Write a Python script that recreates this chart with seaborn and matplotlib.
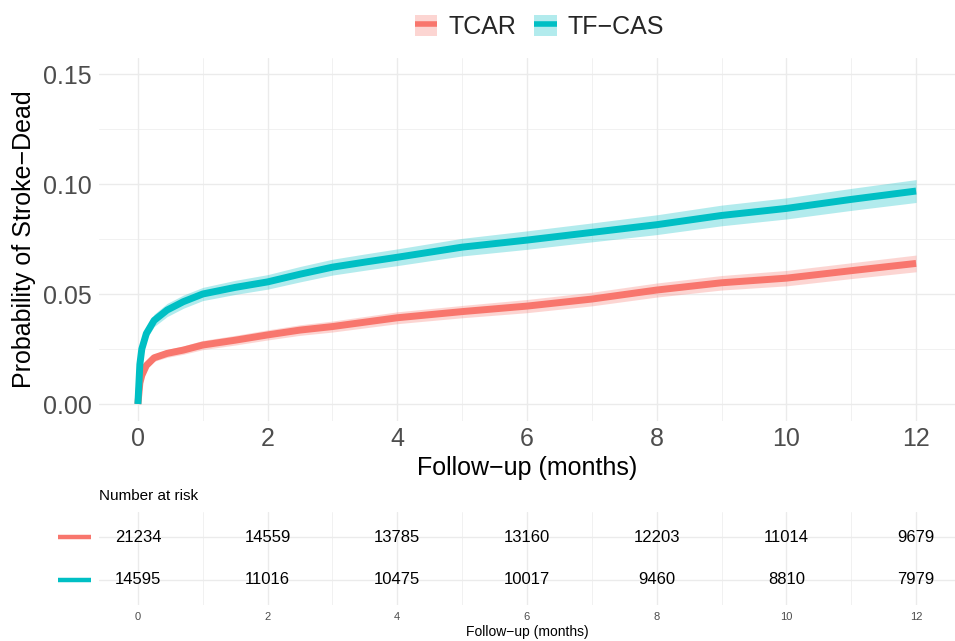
import numpy as np
import pandas as pd
import matplotlib
matplotlib.use("Agg")
import matplotlib.pyplot as plt
import matplotlib.transforms as mtransforms
from matplotlib.patches import Patch
from matplotlib.lines import Line2D
from matplotlib.ticker import MultipleLocator
import seaborn as sns

# cumulative incidence
time = [0, 0.03, 0.06, 0.13, 0.25, 0.45, 0.7, 1.0, 1.5, 2.0, 2.5, 3.0, 3.5,
        4.0, 5.0, 6.0, 7.0, 8.0, 9.0, 10.0, 11.0, 12.0]

tcar_est = [0, 0.0095, 0.013, 0.0175, 0.021, 0.023, 0.0245, 0.0268, 0.029, 0.0314,
            0.0336, 0.0352, 0.0372, 0.0392, 0.042, 0.0445, 0.0477, 0.0518, 0.0551,
            0.0572, 0.0606, 0.0639]
tcar_lo = [0, 0.0085, 0.0118, 0.0161, 0.0194, 0.0212, 0.0226, 0.0247, 0.0268, 0.0291,
           0.0312, 0.0327, 0.0346, 0.0365, 0.0392, 0.0415, 0.0446, 0.0486, 0.0518,
           0.0537, 0.057, 0.0601]
tcar_hi = [0, 0.0105, 0.0142, 0.0189, 0.0226, 0.0248, 0.0264, 0.0289, 0.0312, 0.0337,
           0.036, 0.0377, 0.0398, 0.0419, 0.0448, 0.0475, 0.0508, 0.055, 0.0584,
           0.0607, 0.0642, 0.0677]

tfcas_est = [0, 0.018, 0.025, 0.032, 0.038, 0.0427, 0.0465, 0.050, 0.053, 0.0555,
             0.059, 0.0622, 0.0645, 0.0667, 0.0713, 0.0745, 0.078, 0.0815, 0.0857,
             0.0889, 0.093, 0.0968]
tfcas_lo = [0, 0.0165, 0.023, 0.0295, 0.0352, 0.0397, 0.0435, 0.047, 0.0498, 0.0522,
            0.0555, 0.0586, 0.0608, 0.0629, 0.0673, 0.0703, 0.0737, 0.077, 0.081,
            0.0841, 0.088, 0.0916]
tfcas_hi = [0, 0.0195, 0.027, 0.0345, 0.0408, 0.0457, 0.0495, 0.053, 0.0562, 0.0588,
            0.0625, 0.0658, 0.0682, 0.0705, 0.0753, 0.0787, 0.0823, 0.086, 0.0904,
            0.0937, 0.098, 0.102]

# number at risk table
risk_times = [0, 2, 4, 6, 8, 10, 12]
tcar_risk = [21234, 14559, 13785, 13160, 12203, 11014, 9679]
tfcas_risk = [14595, 11016, 10475, 10017, 9460, 8810, 7979]

groups = ["TCAR", "TF−CAS"]
colors = {"TCAR": "#F8766D", "TF−CAS": "#00BFC4"}

df = pd.concat([
    pd.DataFrame({"time": time, "prob": tcar_est, "lo": tcar_lo, "hi": tcar_hi, "group": "TCAR"}),
    pd.DataFrame({"time": time, "prob": tfcas_est, "lo": tfcas_lo, "hi": tfcas_hi, "group": "TF−CAS"}),
])

sns.set_theme(style="white")
plt.rcParams["font.family"] = ["Liberation Sans", "DejaVu Sans"]

grey_txt = "#4D4D4D"
grid_col = "#EBEBEB"
W, H = 955, 641
fig = plt.figure(figsize=(9.55, 6.41), dpi=100)

ax = fig.add_axes([99 / W, 1 - 420.5 / H, 856 / W, 363 / H])
for g in groups:
    sub = df[df["group"] == g]
    ax.fill_between(sub["time"], sub["lo"], sub["hi"], color=colors[g], alpha=0.3, lw=0)
sns.lineplot(data=df, x="time", y="prob", hue="group", palette=colors, linewidth=5,
             legend=False, ax=ax, solid_capstyle="butt")

ax.set_xlim(-0.6, 12.6)
ax.set_ylim(-0.0075, 0.1575)
ax.xaxis.set_major_locator(MultipleLocator(2))
ax.xaxis.set_minor_locator(MultipleLocator(1))
ax.yaxis.set_major_locator(MultipleLocator(0.05))
ax.yaxis.set_minor_locator(MultipleLocator(0.025))
ax.set_yticks([0, 0.05, 0.10, 0.15])
ax.set_yticklabels(["0.00", "0.05", "0.10", "0.15"])
ax.grid(which="major", color=grid_col, lw=1.0)
ax.grid(which="minor", color=grid_col, lw=0.5)
ax.set_axisbelow(True)
for s in ax.spines.values():
    s.set_visible(False)
ax.tick_params(axis="x", which="both", length=0, labelsize=18, labelcolor=grey_txt, pad=5)
ax.tick_params(axis="y", which="major", length=3, width=0.8, color=grey_txt,
               labelsize=18, labelcolor=grey_txt, pad=2)
ax.tick_params(axis="y", which="minor", length=0)
ax.set_xlabel("Follow−up (months)", fontsize=18, color="black", labelpad=3)
ax.set_ylabel("Probability of Stroke−Dead", fontsize=18, color="black", labelpad=5)

handles = [(Patch(facecolor=colors[g], alpha=0.3, lw=0),
            Line2D([], [], color=colors[g], lw=4, solid_capstyle="butt"))
           for g in groups]
fig.legend(handles, groups, loc="center", bbox_to_anchor=(0.565, 0.958), ncol=2,
           frameon=False, fontsize=18, handlelength=0.9, handleheight=0.9,
           handletextpad=0.45, columnspacing=0.7)

# risk table
ax2 = fig.add_axes([99 / W, 1 - 605 / H, 856 / W, 93 / H])
rows = {"TCAR": 1, "TF−CAS": 0}
for g, counts in zip(groups, [tcar_risk, tfcas_risk]):
    for t, n in zip(risk_times, counts):
        ax2.text(t, rows[g], str(n), ha="center", va="center", fontsize=12, color="black")
ax2.set_xlim(-0.6, 12.6)
ax2.set_ylim(-0.6, 1.6)
ax2.xaxis.set_major_locator(MultipleLocator(2))
ax2.xaxis.set_minor_locator(MultipleLocator(1))
ax2.set_yticks([0, 1])
ax2.set_yticklabels([])
ax2.grid(which="major", color=grid_col, lw=1.0)
ax2.grid(which="minor", axis="x", color=grid_col, lw=0.5)
ax2.set_axisbelow(True)
for s in ax2.spines.values():
    s.set_visible(False)
ax2.tick_params(axis="both", which="both", length=0)
ax2.tick_params(axis="x", labelsize=8, labelcolor=grey_txt, pad=5)
ax2.set_xlabel("Follow−up (months)", fontsize=10, color="black", labelpad=2)

trans = mtransforms.blended_transform_factory(ax2.transAxes, ax2.transData)
for g in groups:
    ax2.plot([-0.048, -0.009], [rows[g], rows[g]], color=colors[g], lw=3.2,
             transform=trans, clip_on=False, solid_capstyle="butt")
ax2.text(0, 1.0 + 16 / 93, "Number at risk", transform=ax2.transAxes, ha="left",
         va="center", fontsize=11, color="black")

fig.savefig("out.png", dpi=100)
